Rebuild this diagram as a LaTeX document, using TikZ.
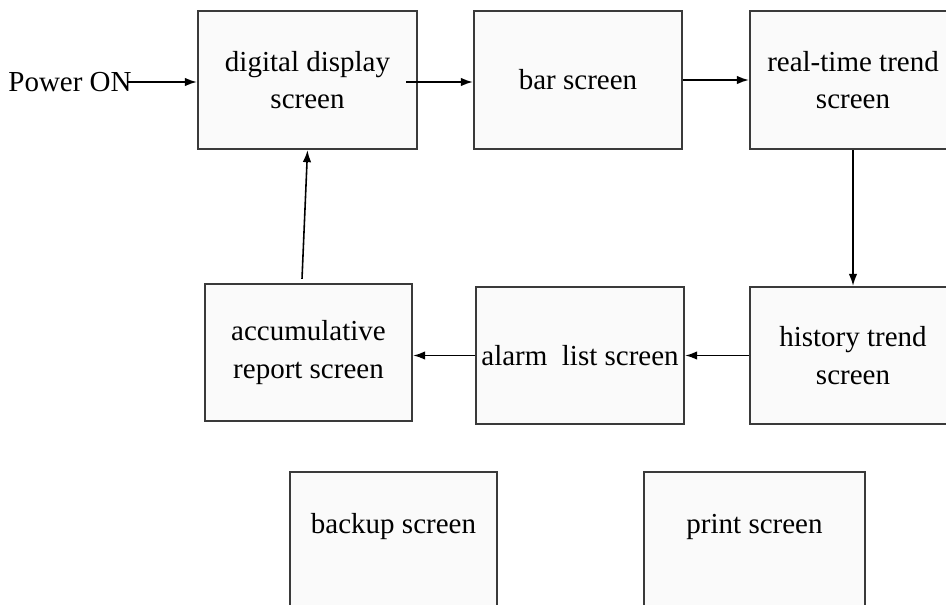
\documentclass[tikz,border=0pt]{standalone}
\usepackage{fontspec}
\setmainfont{Liberation Serif}
\usepackage{tikz}
\usetikzlibrary{arrows.meta, calc, positioning}
\definecolor{rahmen}{HTML}{3A3A3A}
\definecolor{flaeche}{HTML}{FAFAFA}

\begin{document}
\begin{tikzpicture}[
        box/.style={draw=rahmen, line width=1.3pt, fill=flaeche, align=center,
                     minimum width=4.16cm, minimum height=2.76cm,
                     font=\fontsize{16.5}{21.5}\selectfont},
        txt/.style={font=\fontsize{16.5}{21.5}\selectfont, inner sep=0pt},
        arr/.style={-{Latex[length=2.4mm, width=1.7mm]}, line width=0.9pt}
      ]
      \useasboundingbox (0,0) rectangle (18.92,12.08);
      % first row
      \node[txt] (pwr) at (1.40,10.44) {Power ON};
      \node[box, minimum width=4.38cm] (dig) at (6.15,10.48) {digital display\\screen};
      \node[box] (bar) at (11.56,10.48) {bar screen};
      \node[box, minimum width=4.12cm] (real) at (17.06,10.48) {real-time trend\\screen};
      % second row
      \node[box, minimum width=4.14cm, minimum height=2.74cm] (acc) at (6.17,5.03) {accumulative\\report screen};
      \node[box, minimum height=2.74cm, inner sep=1pt] (alarm) at (11.60,4.97) {alarm\ \ list screen};
      \node[box, minimum width=4.12cm, minimum height=2.74cm] (hist) at (17.06,4.97) {history trend\\screen};
      % third row, cut at the bottom
      \node[box, minimum width=4.14cm, anchor=north] (backup) at (7.87,2.66) {};
      \node[txt] (backuptxt) at ([yshift=-1.12cm]backup.north) {backup screen};
      \node[box, minimum width=4.42cm, anchor=north] (print) at (15.09,2.66) {};
      \node[txt] (printtxt) at ([yshift=-1.12cm]print.north) {print screen};

      \draw[arr] ([xshift=-0.08cm]pwr.east) -- (pwr.east -| dig.west);
      \draw[arr] ([xshift=-0.24cm,yshift=-0.04cm]dig.east) -- ([yshift=-0.04cm]bar.west);
      \draw[arr] (bar) -- (real);
      \draw[arr] (real) -- (hist);
      \draw[arr] (hist) -- (alarm);
      \draw[arr] (alarm.west) -- (alarm.west -| acc.east);
      \draw[arr] ([xshift=-0.13cm,yshift=0.08cm]acc.north) -- (dig.south);
    \end{tikzpicture}
\end{document}
